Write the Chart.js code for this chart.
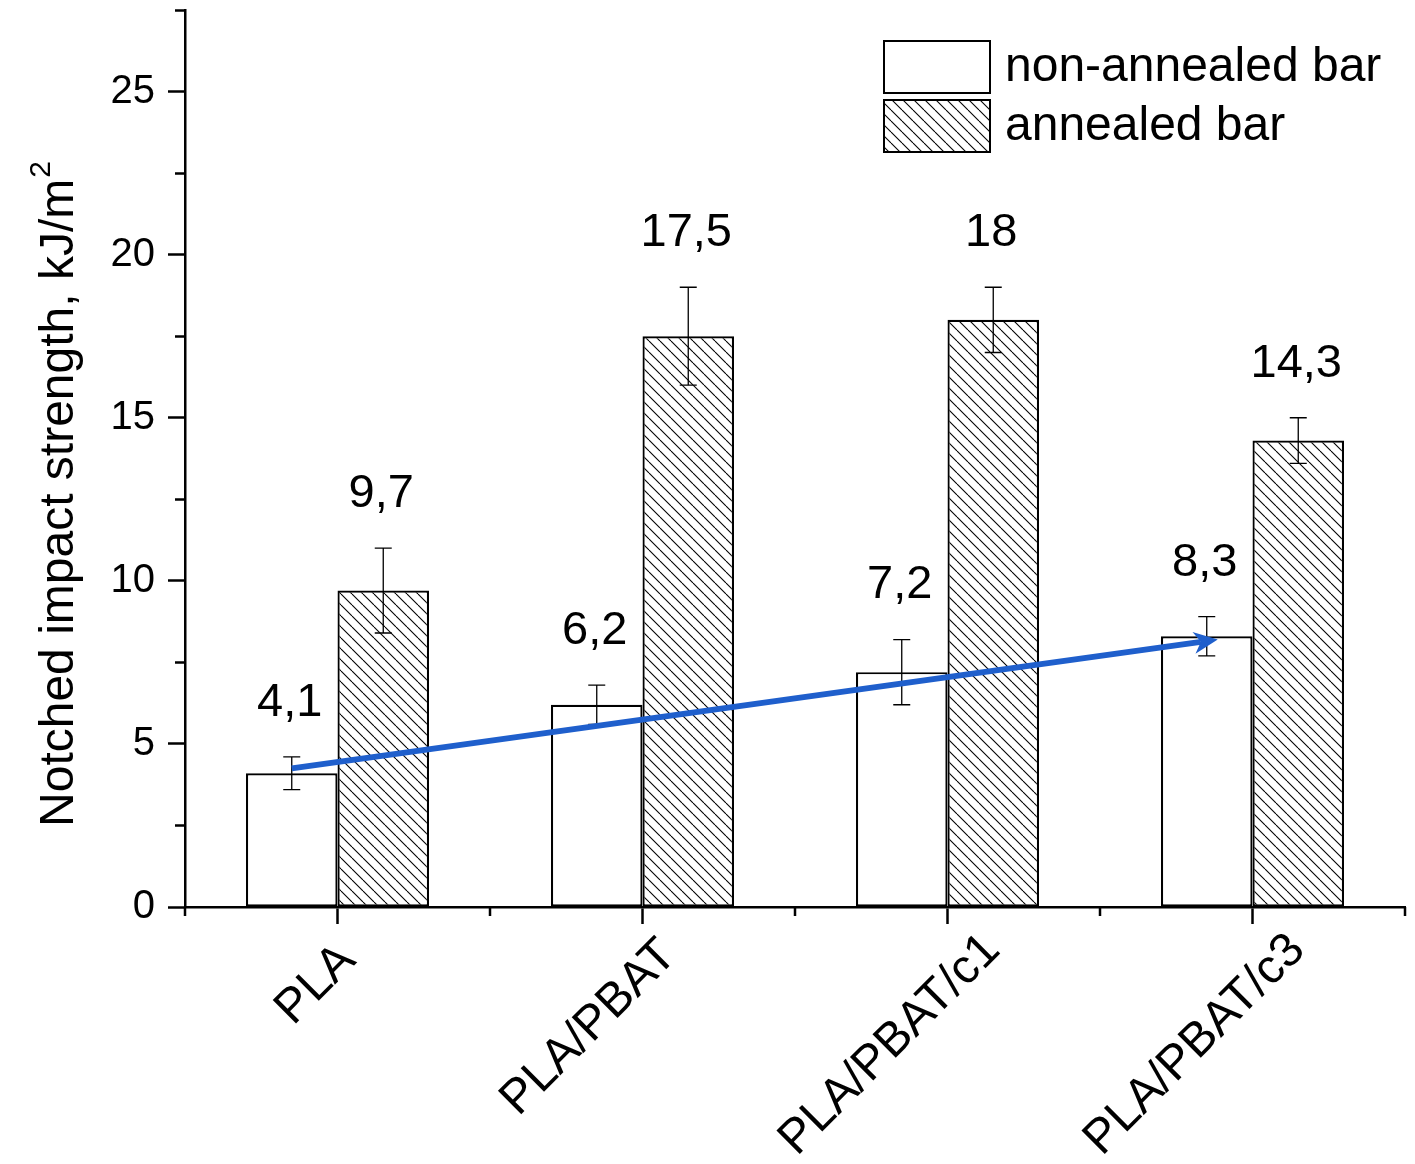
<!DOCTYPE html>
<html><head><meta charset="utf-8">
<script src="https://cdn.jsdelivr.net/npm/chart.js@4.4.0/dist/chart.umd.min.js"></script>
<style>html,body{margin:0;padding:0;background:#fff}canvas{display:block}</style>
</head><body>
<canvas id="c" width="1415" height="1164"></canvas>
<script>
const categories = ['PLA', 'PLA/PBAT', 'PLA/PBAT/c1', 'PLA/PBAT/c3'];
const seriesNames = ['non-annealed bar', 'annealed bar'];
const nonAnnealed = [4.1, 6.2, 7.2, 8.3];
const annealed = [9.7, 17.5, 18, 14.3];
const nonAnnealedErr = [0.5, 0.6, 1.0, 0.6];
const annealedErr = [1.3, 1.5, 1.0, 0.7];
const yTickValues = [0, 5, 10, 15, 20, 25];
const yMinorTickValues = [2.5, 7.5, 12.5, 17.5, 22.5, 27.5];
const yAxisTitle = 'Notched impact strength, kJ/m';
const yAxisTitleSup = '2';
const trendFrom = [0, 4.25];   // [category index, value] on non-annealed bars
const trendTo = [3, 8.2];

const FONT = "'Liberation Sans', Arial, sans-serif";
const canvas = document.getElementById('c');
const ctx0 = canvas.getContext('2d');

function makeHatch() {
  const s = 11;
  const t = document.createElement('canvas');
  t.width = s; t.height = s;
  const g = t.getContext('2d');
  g.fillStyle = '#fff'; g.fillRect(0, 0, s, s);
  g.strokeStyle = '#000'; g.lineWidth = 1.1;
  for (const o of [-s, 0, s]) {
    g.beginPath(); g.moveTo(o, 0); g.lineTo(o + s, s); g.stroke();
  }
  return ctx0.createPattern(t, 'repeat');
}
const hatch = makeHatch();

const decor = {
  id: 'decor',
  afterDatasetsDraw(chart) {
    const ctx = chart.ctx, y = chart.scales.y;
    const vals = [nonAnnealed, annealed], errs = [nonAnnealedErr, annealedErr];
    ctx.save();
    for (let d = 0; d < 2; d++) {
      const meta = chart.getDatasetMeta(d);
      meta.data.forEach((bar, i) => {
        const top = y.getPixelForValue(vals[d][i] + errs[d][i]);
        const bot = y.getPixelForValue(vals[d][i] - errs[d][i]);
        ctx.strokeStyle = '#000'; ctx.lineWidth = 1.3;
        ctx.beginPath();
        ctx.moveTo(bar.x, top); ctx.lineTo(bar.x, bot);
        ctx.moveTo(bar.x - 8.5, top); ctx.lineTo(bar.x + 8.5, top);
        ctx.moveTo(bar.x - 8.5, bot); ctx.lineTo(bar.x + 8.5, bot);
        ctx.stroke();
        ctx.fillStyle = '#000';
        ctx.font = '47px ' + FONT;
        ctx.textAlign = 'center'; ctx.textBaseline = 'middle';
        ctx.fillText(String(vals[d][i]).replace('.', ','), bar.x - 2, top - 54);
      });
    }
    // trend arrow
    const m0 = chart.getDatasetMeta(0);
    const x1 = m0.data[trendFrom[0]].x, y1 = y.getPixelForValue(trendFrom[1]);
    const x2 = m0.data[trendTo[0]].x + 11, y2 = y.getPixelForValue(trendTo[1]);
    const a = Math.atan2(y2 - y1, x2 - x1), ca = Math.cos(a), sa = Math.sin(a);
    const L = 24, W = 11, N = 17;
    ctx.strokeStyle = '#1f5fcc'; ctx.fillStyle = '#1f5fcc';
    ctx.lineWidth = 6; ctx.lineCap = 'butt';
    ctx.beginPath(); ctx.moveTo(x1, y1); ctx.lineTo(x2 - N * ca, y2 - N * sa); ctx.stroke();
    ctx.beginPath();
    ctx.moveTo(x2, y2);
    ctx.lineTo(x2 - L * ca + W * sa, y2 - L * sa - W * ca);
    ctx.lineTo(x2 - N * ca, y2 - N * sa);
    ctx.lineTo(x2 - L * ca - W * sa, y2 - L * sa + W * ca);
    ctx.closePath(); ctx.fill();
    ctx.restore();
  },
  afterDraw(chart) {
    const ctx = chart.ctx, x = chart.scales.x, y = chart.scales.y, ca = chart.chartArea;
    ctx.save();
    ctx.strokeStyle = '#000'; ctx.lineWidth = 2.5;
    // minor y ticks
    ctx.beginPath();
    yMinorTickValues.forEach(v => {
      const py = Math.round(y.getPixelForValue(v)) + 0.5;
      ctx.moveTo(ca.left, py); ctx.lineTo(ca.left - 10, py);
    });
    // minor x ticks at category boundaries
    const half = (x.getPixelForValue(1) - x.getPixelForValue(0)) / 2;
    for (let i = 0; i <= categories.length; i++) {
      const px = Math.round(x.getPixelForValue(0) - half + i * 2 * half);
      ctx.moveTo(px, ca.bottom); ctx.lineTo(px, ca.bottom + 9);
    }
    ctx.stroke();
    // x tick labels rotated
    ctx.fillStyle = '#000';
    ctx.font = '48px ' + FONT;
    categories.forEach((c, i) => {
      const px = x.getPixelForValue(i);
      const w = ctx.measureText(c).width;
      const k = Math.pow(Math.max(0, w - 91) / 225, 2);
      ctx.save();
      ctx.translate(px + 20 + 44 * k, ca.bottom + 55 - 13 * k);
      ctx.rotate(-Math.PI / 4);
      ctx.textAlign = 'right'; ctx.textBaseline = 'alphabetic';
      ctx.fillText(c, 0, 0);
      ctx.restore();
    });
    // y axis title with superscript
    ctx.font = '48px ' + FONT;
    const wMain = ctx.measureText(yAxisTitle).width;
    ctx.font = '30px ' + FONT;
    const wSup = ctx.measureText(yAxisTitleSup).width;
    const total = wMain + wSup + 1;
    ctx.save();
    ctx.translate(73, 494 + total / 2);
    ctx.rotate(-Math.PI / 2);
    ctx.textAlign = 'left'; ctx.textBaseline = 'alphabetic';
    ctx.font = '48px ' + FONT;
    ctx.fillText(yAxisTitle, 0, 0);
    ctx.font = '30px ' + FONT;
    ctx.fillText(yAxisTitleSup, wMain + 1, -23);
    ctx.restore();
    // legend
    const fills = ['#fff', hatch];
    seriesNames.forEach((name, i) => {
      const by = 41 + i * 59;
      ctx.fillStyle = fills[i];
      ctx.fillRect(884, by, 106, 52);
      ctx.lineWidth = 2; ctx.strokeStyle = '#000';
      ctx.strokeRect(884, by, 106, 52);
      ctx.fillStyle = '#000';
      ctx.font = '48px ' + FONT;
      ctx.textAlign = 'left'; ctx.textBaseline = 'middle';
      ctx.fillText(name, 1005, by + 27);
    });
    ctx.restore();
  }
};

new Chart(ctx0, {
  type: 'bar',
  data: {
    labels: categories,
    datasets: [
      { label: seriesNames[0], data: nonAnnealed, backgroundColor: '#fff', borderColor: '#000', borderWidth: 2.2, borderSkipped: false },
      { label: seriesNames[1], data: annealed, backgroundColor: hatch, borderColor: '#000', borderWidth: 2.2, borderSkipped: false }
    ]
  },
  options: {
    responsive: false, animation: false, devicePixelRatio: 1,
    layout: { padding: { top: 10, right: 10, left: 0, bottom: 0 } },
    plugins: { legend: { display: false }, tooltip: { enabled: false } },
    datasets: { bar: { categoryPercentage: 0.6, barPercentage: 1 } },
    scales: {
      x: {
        offset: true,
        grid: { display: true, offset: false, drawOnChartArea: false, drawTicks: true, tickLength: 17, tickWidth: 2.5, tickColor: '#000' },
        border: { display: true, color: '#000', width: 2.5 },
        ticks: { display: false },
        afterFit(s) { s.height = 257; s.paddingLeft = 0; s.paddingRight = 0; }
      },
      y: {
        min: 0, max: 27.5,
        afterBuildTicks(s) { s.ticks = yTickValues.map(v => ({ value: v })); },
        ticks: { font: { family: FONT, size: 40 }, color: '#000', padding: 13 },
        grid: { display: true, drawOnChartArea: false, drawTicks: true, tickLength: 17, tickWidth: 2.5, tickColor: '#000' },
        border: { display: true, color: '#000', width: 2.5 },
        afterFit(s) { s.width = 185; s.paddingTop = 0; s.paddingBottom = 0; }
      }
    }
  },
  plugins: [decor]
});
</script>
</body></html>
